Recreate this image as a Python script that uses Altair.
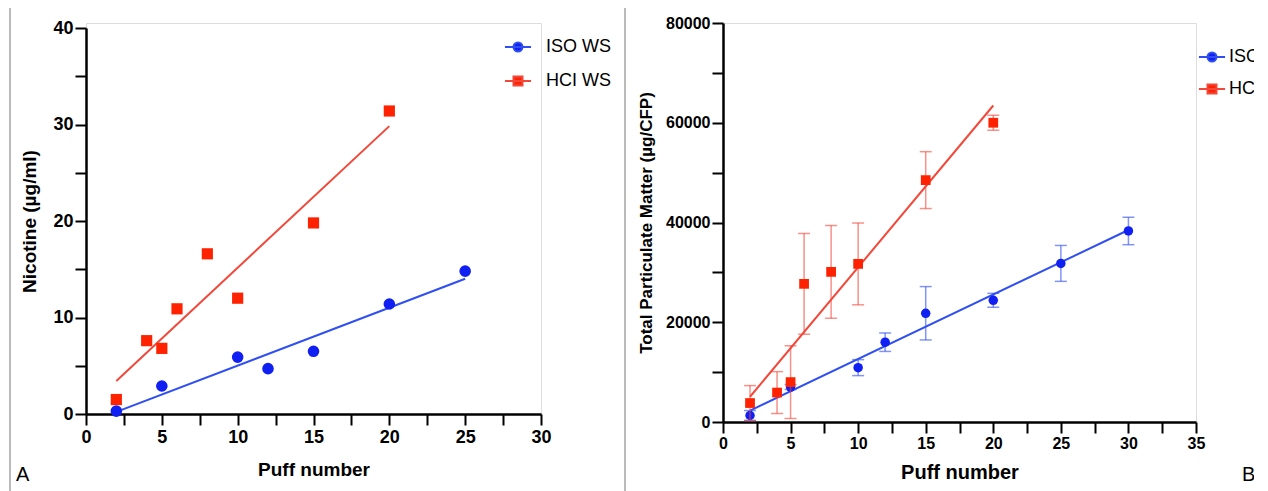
import altair as alt
import pandas as pd

# ---------------- data ----------------
# Panel A : Nicotine (µg/ml) vs puff number
a_iso_puff = [2, 5, 10, 12, 15, 20, 25]
a_iso_nic = [0.3, 2.9, 5.9, 4.7, 6.5, 11.4, 14.8]
a_hci_puff = [2, 4, 5, 6, 8, 10, 15, 20]
a_hci_nic = [1.5, 7.6, 6.8, 10.9, 16.6, 12.0, 19.8, 31.4]

# Panel B : Total particulate matter (µg/CFP) vs puff number, with error
b_iso_puff = [2, 5, 10, 12, 15, 20, 25, 30]
b_iso_tpm = [1300, 7000, 10900, 16000, 21800, 24400, 31800, 38300]
b_iso_err = [1000, 500, 1600, 1850, 5350, 1400, 3600, 2750]
b_hci_puff = [2, 4, 5, 6, 8, 10, 15, 20]
b_hci_tpm = [3800, 5900, 8000, 27700, 30100, 31700, 48500, 60000]
b_hci_err = [3500, 4200, 7300, 10100, 9300, 8200, 5700, 1500]

series_a = ["ISO WS", "HCI WS"]
series_b = ["ISO", "HCI"]

a_xticks = [i * 2.5 for i in range(13)]      # 0..30
a_yticks = [i * 5 for i in range(9)]         # 0..40
b_xticks = [i * 2.5 for i in range(15)]      # 0..35
b_yticks = [i * 10000 for i in range(9)]     # 0..80000

dfA = pd.DataFrame({
    "puff": a_iso_puff + a_hci_puff,
    "val": a_iso_nic + a_hci_nic,
    "series": [series_a[0]] * len(a_iso_puff) + [series_a[1]] * len(a_hci_puff),
})
dfB = pd.DataFrame({
    "puff": b_iso_puff + b_hci_puff,
    "val": b_iso_tpm + b_hci_tpm,
    "err": b_iso_err + b_hci_err,
    "series": [series_b[0]] * len(b_iso_puff) + [series_b[1]] * len(b_hci_puff),
})
one = pd.DataFrame({"k": [0]})

# ---------------- style ----------------
FONT = "Liberation Sans"
BLUE_MK = "#1020f2"
RED_MK = "#ff2200"
BLUE_LN = "#2f4ff2"
RED_LN = "#f2483a"
FRAME = "#8c8c8c"

PATH_C = "M-2.9,0H2.9M-1,0A1,1,0,1,1,1,0A1,1,0,1,1,-1,0Z"
PATH_S = "M-2.9,0H2.9M-1,-1H1V1H-1Z"


def axis(title, values, step, label_size, title_size, label_pad, title_pad, fmt=None):
    kw = dict(
        title=title, values=values,
        labelExpr=f"datum.value % {step} == 0 ? datum.label : ''",
        labelFont=FONT, labelFontSize=label_size, labelFontWeight="bold", labelColor="black",
        titleFont=FONT, titleFontSize=title_size, titleFontWeight="bold", titleColor="black",
        labelPadding=label_pad, titlePadding=title_pad,
        domainColor="black", domainWidth=2.5, tickColor="black", tickWidth=2, tickSize=11,
        grid=False, labelOverlap=False, labelFlush=False,
    )
    if fmt:
        kw["format"] = fmt
    return alt.Axis(**kw)


def panel(df, series, colors_mk, colors_ln, xdom, ydom, yrange, xaxis, yaxis, w, h,
          leg, frame, label, with_err):
    x = alt.X("puff:Q", scale=alt.Scale(domain=xdom, nice=False), axis=xaxis)
    y = alt.Y("val:Q", scale=alt.Scale(domain=ydom, range=yrange, nice=False), axis=yaxis)
    layers = []
    for s, cm, cl, shape, sz in zip(series, colors_mk, colors_ln, ["circle", "square"], leg["sizes"]):
        base = alt.Chart(df).transform_filter(alt.datum.series == s)
        if with_err:
            eb = base.transform_calculate(lo="datum.val - datum.err", hi="datum.val + datum.err")
            layers.append(eb.mark_rule(color=cl, opacity=0.6, strokeWidth=1.5).encode(
                x=x, y="lo:Q", y2="hi:Q"))
            layers.append(eb.mark_tick(color=cl, opacity=0.6, thickness=1.5, size=12,
                                       orient="horizontal").encode(x=x, y="lo:Q"))
            layers.append(eb.mark_tick(color=cl, opacity=0.6, thickness=1.5, size=12,
                                       orient="horizontal").encode(x=x, y="hi:Q"))
        layers.append(base.transform_regression("puff", "val").mark_line(
            color=cl, strokeWidth=2).encode(x=x, y=y))
        layers.append(base.mark_point(shape=shape, filled=True, size=sz, color=cm,
                                      opacity=1).encode(x=x, y=y))
    lg = alt.Legend(title=None, orient="none", legendX=leg["x"], legendY=leg["y"],
                    labelFont=FONT, labelFontSize=18, labelColor="black",
                    rowPadding=leg["row"], labelOffset=leg["off"], padding=0,
                    symbolStrokeWidth=2, symbolSize=81)
    layers.append(alt.Chart(df).transform_filter("false").mark_point(
        filled=True, size=81, strokeWidth=2, opacity=1).encode(
        x=x, y=y,
        fill=alt.Fill("series:N", scale=alt.Scale(domain=series, range=colors_mk), legend=lg),
        stroke=alt.Stroke("series:N", scale=alt.Scale(domain=series, range=colors_ln), legend=lg),
        shape=alt.Shape("series:N", scale=alt.Scale(domain=series, range=[PATH_C, PATH_S]), legend=lg),
    ))
    # figure frame lines
    for enc in frame:
        layers.append(alt.Chart(one).mark_rule(color=FRAME, strokeWidth=1.2).encode(**enc))
    layers.append(alt.Chart(one).mark_text(text=label["t"], align="left", baseline="alphabetic",
                                           font=FONT, fontSize=20, color="black").encode(
        x=alt.value(label["x"]), y=alt.value(label["y"])))
    return alt.layer(*layers).properties(width=w, height=h)


A = panel(
    dfA, series_a, [BLUE_MK, RED_MK], [BLUE_LN, RED_LN], [0, 30], [0, 40], [391, 5],
    axis("Puff number", a_xticks, 5, 18, 19, 3, 14),
    axis("Nicotine (µg/ml)", a_yticks, 10, 18, 19, 2, 13),
    455, 391,
    {"x": 423, "y": 15, "row": 16, "off": 19, "sizes": [135, 125]},
    [
        dict(x=alt.value(-76), y=alt.value(-17), y2=alt.value(470)),
        dict(x=alt.value(-76), x2=alt.value(539), y=alt.value(-17)),
        dict(x=alt.value(539), y=alt.value(-17), y2=alt.value(470)),
    ],
    {"t": "A", "x": -70, "y": 458},
    False,
)

B = panel(
    dfB, series_b, [BLUE_MK, RED_MK], [BLUE_LN, RED_LN], [0, 35], [0, 80000], [399, 0],
    axis("Puff number", b_xticks, 5, 16, 20, 2, 11),
    axis("Total Particulate Matter (µg/CFP)", b_yticks, 20000, 16, 17, 2, 10, fmt="d"),
    473, 399,
    {"x": 480, "y": 25, "row": 14, "off": 8, "sizes": [90, 95]},
    [
        dict(x=alt.value(-94), x2=alt.value(540), y=alt.value(-17)),
    ],
    {"t": "B", "x": 519, "y": 458},
    True,
)

chart = alt.hconcat(A, B, spacing=0).resolve_scale(
    fill="independent", stroke="independent", shape="independent"
).resolve_legend(
    fill="independent", stroke="independent", shape="independent"
).properties(
    padding={"left": 0, "top": -4, "right": -11, "bottom": 0}
).configure_view(stroke=None).configure(background="white")

chart.save("out.html", embed_options={"renderer": "svg", "actions": False})
